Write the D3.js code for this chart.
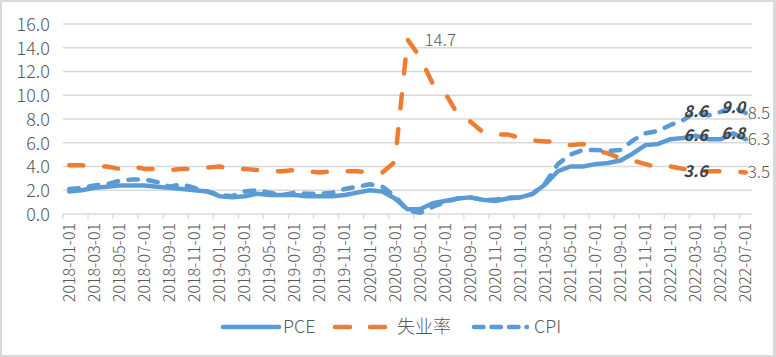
<!DOCTYPE html>
<html>
<head>
<meta charset="utf-8">
<script src="https://cdn.jsdelivr.net/npm/d3@7"></script>
<style>
  html, body { margin: 0; padding: 0; background: #d9d9d9; }
  svg { display: block; }
  text { font-family: "Noto Sans CJK SC", "Noto Sans", sans-serif; }
  .light { font-weight: 300; }
</style>
</head>
<body>
<svg id="chart" width="776" height="357"></svg>
<script>
const dates = [
  "2018-01-01","2018-02-01","2018-03-01","2018-04-01","2018-05-01","2018-06-01",
  "2018-07-01","2018-08-01","2018-09-01","2018-10-01","2018-11-01","2018-12-01",
  "2019-01-01","2019-02-01","2019-03-01","2019-04-01","2019-05-01","2019-06-01",
  "2019-07-01","2019-08-01","2019-09-01","2019-10-01","2019-11-01","2019-12-01",
  "2020-01-01","2020-02-01","2020-03-01","2020-04-01","2020-05-01","2020-06-01",
  "2020-07-01","2020-08-01","2020-09-01","2020-10-01","2020-11-01","2020-12-01",
  "2021-01-01","2021-02-01","2021-03-01","2021-04-01","2021-05-01","2021-06-01",
  "2021-07-01","2021-08-01","2021-09-01","2021-10-01","2021-11-01","2021-12-01",
  "2022-01-01","2022-02-01","2022-03-01","2022-04-01","2022-05-01","2022-06-01",
  "2022-07-01"
];
const pce = [
  1.9, 2.0, 2.2, 2.3, 2.4, 2.4, 2.4, 2.3, 2.2, 2.1, 2.0, 1.9,
  1.5, 1.4, 1.5, 1.7, 1.6, 1.6, 1.6, 1.5, 1.5, 1.5, 1.6, 1.8,
  2.0, 1.9, 1.3, 0.4, 0.4, 0.9, 1.1, 1.3, 1.4, 1.2, 1.1, 1.3,
  1.4, 1.7, 2.5, 3.6, 4.0, 4.0, 4.2, 4.3, 4.5, 5.1, 5.8, 5.9,
  6.3, 6.4, 6.6, 6.3, 6.3, 6.8, 6.3
];
const unemployment = [
  4.1, 4.1, 4.0, 4.0, 3.8, 4.0, 3.8, 3.8, 3.7, 3.8, 3.8, 3.9,
  4.0, 3.8, 3.8, 3.7, 3.6, 3.6, 3.7, 3.6, 3.5, 3.6, 3.6, 3.6,
  3.5, 3.5, 4.4, 14.7, 13.2, 11.0, 10.2, 8.4, 7.8, 6.9, 6.7, 6.7,
  6.4, 6.2, 6.1, 6.1, 5.8, 5.9, 5.4, 5.1, 4.7, 4.5, 4.2, 3.9,
  4.0, 3.8, 3.6, 3.6, 3.6, 3.6, 3.5
];
const cpi = [
  2.1, 2.2, 2.4, 2.5, 2.8, 2.9, 2.9, 2.7, 2.3, 2.5, 2.2, 1.9,
  1.6, 1.5, 1.9, 2.0, 1.8, 1.6, 1.8, 1.7, 1.7, 1.8, 2.1, 2.3,
  2.5, 2.3, 1.5, 0.3, 0.1, 0.6, 1.0, 1.3, 1.4, 1.2, 1.2, 1.4,
  1.4, 1.7, 2.6, 4.2, 5.0, 5.4, 5.4, 5.3, 5.4, 6.2, 6.8, 7.0,
  7.5, 7.9, 8.6, 8.3, 8.6, 9.0, 8.5
];
const yTicks = [0, 2, 4, 6, 8, 10, 12, 14, 16];
const seriesNames = ["PCE", "失业率", "CPI"];

(function () {
const svg = d3.select("#chart");
const W = 776, H = 357;
const pLeft = 63, pRight = 752, pTop = 24, pBottom = 214;

svg.append("rect").attr("x", 2).attr("y", 2).attr("width", W - 5).attr("height", H - 4)
  .attr("fill", "#ffffff");

const x = d3.scaleBand().domain(dates).range([pLeft, pRight]).paddingInner(0).paddingOuter(0);
const y = d3.scaleLinear().domain([0, 16]).range([pBottom, pTop]);
const cx = d => x(d) + x.bandwidth() / 2;

// gridlines
svg.append("g").selectAll("line").data(yTicks).join("line")
  .attr("x1", pLeft).attr("x2", pRight)
  .attr("y1", d => y(d)).attr("y2", d => y(d))
  .attr("stroke", "#d9d9d9").attr("stroke-width", 1.3);

// y axis labels
const yAxis = svg.append("g").attr("transform", `translate(${pLeft - 13},0)`)
  .call(d3.axisLeft(y).tickValues(yTicks).tickFormat(d3.format(".1f")).tickSize(0));
yAxis.select(".domain").remove();
yAxis.selectAll("text").attr("class", "light").attr("fill", "#595959").attr("font-size", 18)
  .attr("x", 0).attr("dy", "0.35em");

// x axis tick marks (category boundaries every 2 months)
const tickDates = dates.filter((d, i) => i % 2 === 0);
svg.append("g").selectAll("line").data(tickDates).join("line")
  .attr("x1", d => x(d)).attr("x2", d => x(d))
  .attr("y1", pBottom).attr("y2", pBottom + 5)
  .attr("stroke", "#d9d9d9").attr("stroke-width", 1.3);

// x axis labels
const xAxis = svg.append("g").attr("transform", `translate(0,${pBottom})`)
  .call(d3.axisBottom(x).tickValues(tickDates).tickSize(0));
xAxis.select(".domain").remove();
xAxis.selectAll("text")
  .attr("class", "light")
  .attr("fill", "#595959").attr("font-size", 16)
  .attr("text-anchor", "end")
  .attr("transform", "rotate(-90)")
  .attr("x", -9).attr("y", 0).attr("dy", "0.35em");

const blue = "#5b9bd5", orange = "#ed7d31";
const line = vals => d3.line().x((d, i) => cx(dates[i])).y(d => y(d))(vals);

svg.append("path").attr("d", line(unemployment)).attr("fill", "none")
  .attr("stroke", orange).attr("stroke-width", 4.5).attr("stroke-linecap", "round")
  .attr("stroke-linejoin", "round").attr("stroke-dasharray", "14 21");
svg.append("path").attr("d", line(pce)).attr("fill", "none")
  .attr("stroke", blue).attr("stroke-width", 4.5).attr("stroke-linecap", "round")
  .attr("stroke-linejoin", "round");
svg.append("path").attr("d", line(cpi)).attr("fill", "none")
  .attr("stroke", blue).attr("stroke-width", 4.5).attr("stroke-linecap", "round")
  .attr("stroke-linejoin", "round").attr("stroke-dasharray", "9.5 10.5");

// data labels
const lbl = svg.append("g");
const peakI = unemployment.indexOf(d3.max(unemployment));
lbl.append("text").attr("class", "light").attr("x", cx(dates[peakI]) + 17).attr("y", y(unemployment[peakI]) + 1)
  .attr("dy", "0.35em").attr("fill", "#595959").attr("font-size", 17)
  .text(d3.format(".1f")(unemployment[peakI]));

const centerIdx = [50, 53];
[cpi, pce, unemployment].forEach(s => {
  centerIdx.forEach(i => {
    if (s === unemployment && i === 53) return;
    lbl.append("text").attr("x", cx(dates[i])).attr("y", y(s[i]))
      .attr("dy", "0.35em").attr("text-anchor", "middle")
      .attr("fill", "#404040").attr("font-size", 16).attr("font-weight", "bold")
      .attr("font-style", "italic").text(d3.format(".1f")(s[i]));
  });
});
const last = dates.length - 1;
[cpi, pce, unemployment].forEach(s => {
  lbl.append("text").attr("class", "light").attr("x", cx(dates[last]) + 2).attr("y", y(s[last]))
    .attr("dy", "0.35em").attr("fill", "#595959").attr("font-size", 17)
    .text(d3.format(".1f")(s[last]));
});

// legend
const legend = svg.append("g");
const legItems = [
  {name: seriesNames[0], color: blue, dash: null, x1: 223, x2: 279, tx: 283},
  {name: seriesNames[1], color: orange, dash: "15 20", x1: 335, x2: 391, tx: 397},
  {name: seriesNames[2], color: blue, dash: "9.5 8", x1: 474, x2: 527, tx: 534}
];
legItems.forEach(it => {
  legend.append("line").attr("x1", it.x1).attr("x2", it.x2).attr("y1", 327).attr("y2", 327)
    .attr("stroke", it.color).attr("stroke-width", 4.5).attr("stroke-linecap", "round")
    .attr("stroke-dasharray", it.dash);
  legend.append("text").attr("class", "light").attr("x", it.tx).attr("y", 327).attr("dy", "0.35em")
    .attr("fill", "#595959").attr("font-size", 18).text(it.name);
});
})();
</script>
</body>
</html>
